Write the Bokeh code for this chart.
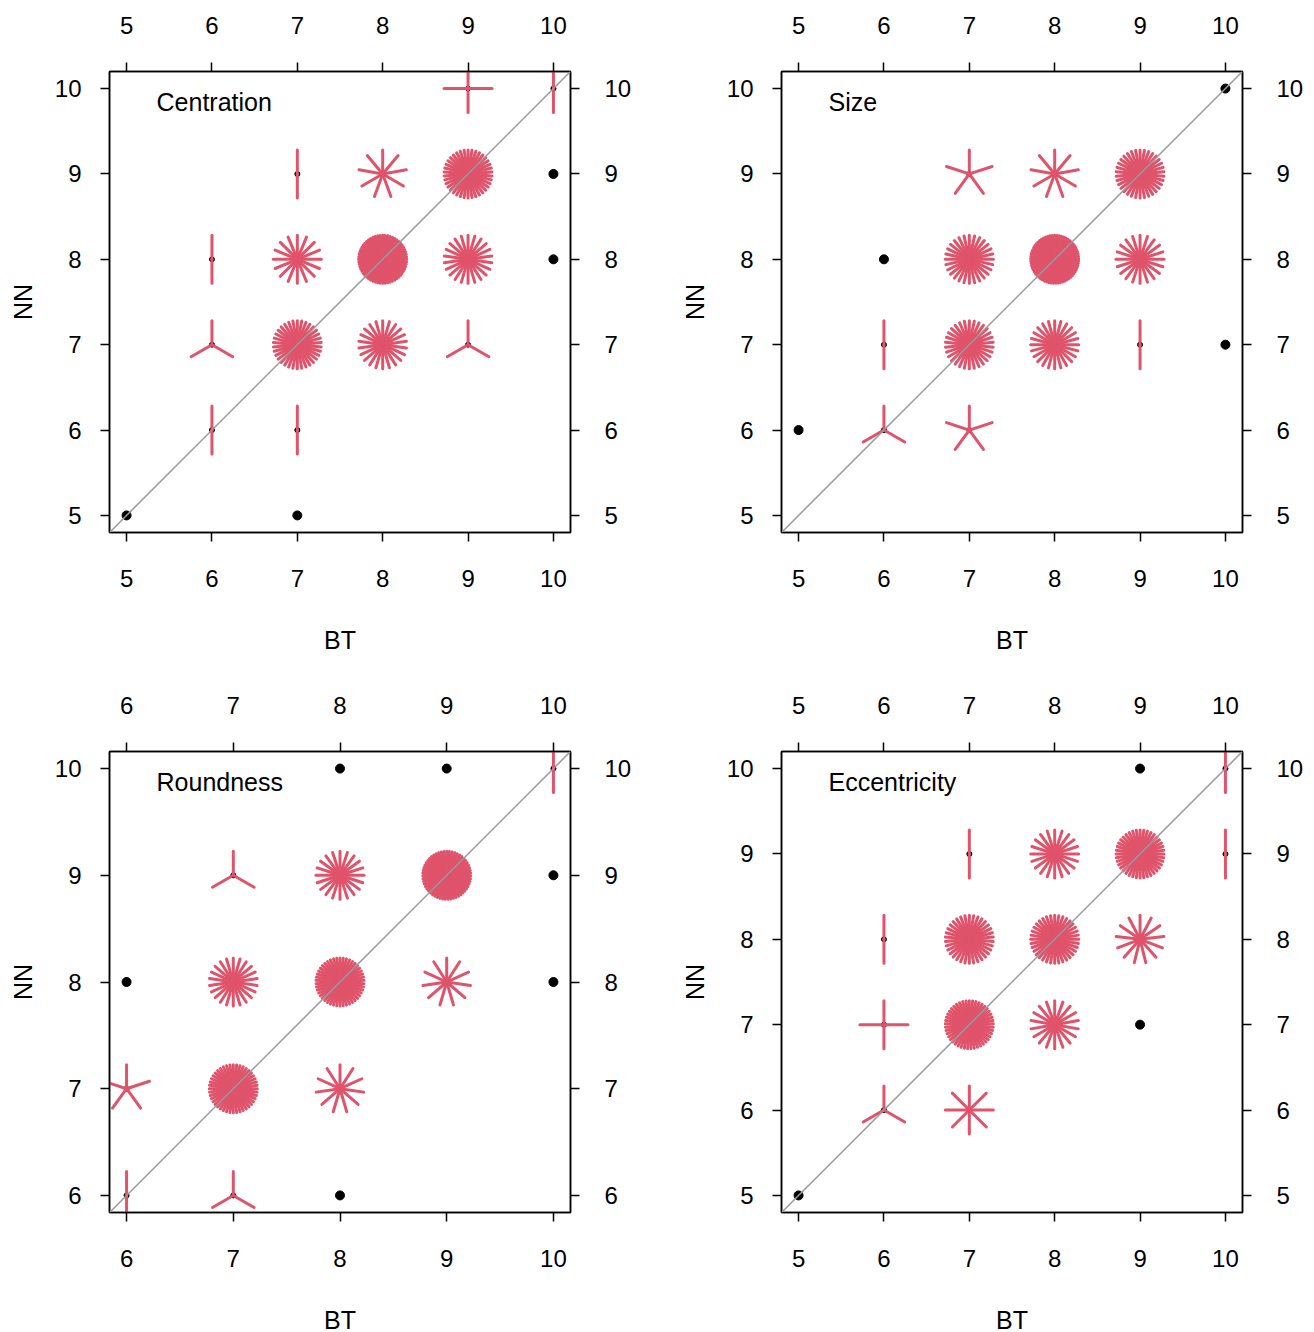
import numpy as np
from bokeh.plotting import figure
from bokeh.models import Range1d, LinearAxis, FixedTicker, Slope, Label
from bokeh.layouts import gridplot
from bokeh.embed import file_html
from bokeh.resources import INLINE

# ---- data: (BT, NN, count) per panel ----
cen_bt = [5, 7, 6, 7, 6, 7, 8, 9, 6, 7, 8, 9, 10, 7, 8, 9, 10, 9, 10]
cen_nn = [5, 5, 6, 6, 7, 7, 7, 7, 8, 8, 8, 8, 8, 9, 9, 9, 9, 10, 10]
cen_n = [1, 1, 2, 2, 3, 34, 22, 3, 2, 16, 60, 22, 1, 2, 9, 38, 1, 4, 2]

siz_bt = [5, 6, 7, 6, 7, 8, 9, 10, 6, 7, 8, 9, 7, 8, 9, 10]
siz_nn = [6, 6, 6, 7, 7, 7, 7, 7, 8, 8, 8, 8, 9, 9, 9, 10]
siz_n = [1, 3, 5, 2, 30, 24, 2, 1, 1, 28, 65, 20, 5, 9, 34, 1]

rnd_bt = [6, 7, 8, 6, 7, 8, 6, 7, 8, 9, 10, 7, 8, 9, 10, 8, 9, 10]
rnd_nn = [6, 6, 6, 7, 7, 7, 8, 8, 8, 8, 8, 9, 9, 9, 9, 10, 10, 10]
rnd_n = [2, 3, 1, 5, 44, 11, 1, 22, 46, 11, 1, 3, 20, 55, 1, 1, 1, 2]

ecc_bt = [5, 6, 7, 6, 7, 8, 9, 6, 7, 8, 9, 7, 8, 9, 10, 9, 10]
ecc_nn = [5, 6, 6, 7, 7, 7, 7, 8, 8, 8, 8, 9, 9, 9, 9, 10, 10]
ecc_n = [1, 3, 8, 4, 45, 18, 1, 2, 34, 36, 13, 2, 20, 40, 2, 1, 2]

ticks_5_10 = [5, 6, 7, 8, 9, 10]
ticks_6_10 = [6, 7, 8, 9, 10]

PETAL = "#DF536B"
FONT = "Liberation Sans"
FRAME = 461


def make_panel(title, bt, nn, cnt, ticks, borders):
    lo_d, hi_d = min(ticks), max(ticks)
    pad = 0.04 * (hi_d - lo_d)
    lo, hi = lo_d - pad, hi_d + pad
    left, right, top, bottom = borders
    p = figure(frame_width=FRAME, frame_height=FRAME,
               x_range=Range1d(lo, hi), y_range=Range1d(lo, hi),
               output_backend="svg", toolbar_location=None,
               min_border_left=left, min_border_right=right,
               min_border_top=top, min_border_bottom=bottom,
               background_fill_color="white", border_fill_color="white")
    p.grid.visible = False
    p.outline_line_color = "black"
    p.outline_line_width = 1.5
    p.xaxis.axis_label = "BT"
    p.yaxis.axis_label = "NN"
    p.add_layout(LinearAxis(), "above")
    p.add_layout(LinearAxis(), "right")
    for ax in p.axis:
        ax.ticker = FixedTicker(ticks=ticks)
        ax.axis_line_color = "black"
        ax.axis_line_width = 1.5
        ax.major_tick_line_color = "black"
        ax.major_tick_line_width = 1.5
        ax.major_tick_out = 9
        ax.major_tick_in = 0
        ax.minor_tick_out = 0
        ax.minor_tick_in = 0
        ax.major_label_text_font = FONT
        ax.major_label_text_font_size = "24px"
        ax.major_label_text_color = "black"
        ax.axis_label_text_font = FONT
        ax.axis_label_text_font_size = "25px"
        ax.axis_label_text_font_style = "normal"
        ax.axis_label_text_color = "black"
    p.below[0].major_label_standoff = 28
    p.below[0].axis_label_standoff = 36
    p.above[0].major_label_standoff = 29
    for ax in p.yaxis:
        ax.major_label_orientation = "horizontal"
        ax.axis_label_standoff = 15
    p.left[0].major_label_standoff = 19
    p.right[0].major_label_standoff = 25

    bt = np.array(bt, dtype=float)
    nn = np.array(nn, dtype=float)
    cnt = np.array(cnt)
    one = cnt == 1
    multi = cnt > 1
    # single observations: solid black dots
    p.scatter(bt[one], nn[one], size=9, color="black")
    # multi: small center dot + petals
    p.scatter(bt[multi], nn[multi], size=5, color="black")
    rx, ry, ra = [], [], []
    for x, y, n in zip(bt[multi], nn[multi], cnt[multi]):
        for k in range(1, n + 1):
            rx.append(x)
            ry.append(y)
            ra.append(np.pi / 2 - 2 * np.pi * k / n)
    p.ray(x=rx, y=ry, length=24, length_units="screen", angle=ra,
          line_color=PETAL, line_width=3, line_cap="round")

    diag = Slope(gradient=1, y_intercept=0, line_color="#999999", line_width=1.5)
    diag.level = "overlay"
    p.add_layout(diag)

    lab = Label(x=lo + 0.102 * (hi - lo), y=hi - 0.067 * (hi - lo), text=title,
                text_font=FONT, text_font_size="25px", text_color="black",
                text_baseline="middle", text_align="left")
    p.add_layout(lab)
    return p


p1 = make_panel("Centration", cen_bt, cen_nn, cen_n, ticks_5_10, (109, 64, 71, 130))
p2 = make_panel("Size", siz_bt, siz_nn, siz_n, ticks_5_10, (147, 64, 71, 130))
p3 = make_panel("Roundness", rnd_bt, rnd_nn, rnd_n, ticks_6_10, (109, 64, 89, 110))
p4 = make_panel("Eccentricity", ecc_bt, ecc_nn, ecc_n, ticks_5_10, (147, 64, 89, 110))

grid = gridplot([[p1, p2], [p3, p4]], toolbar_location=None)
open("out.html", "w").write(file_html(grid, INLINE))
